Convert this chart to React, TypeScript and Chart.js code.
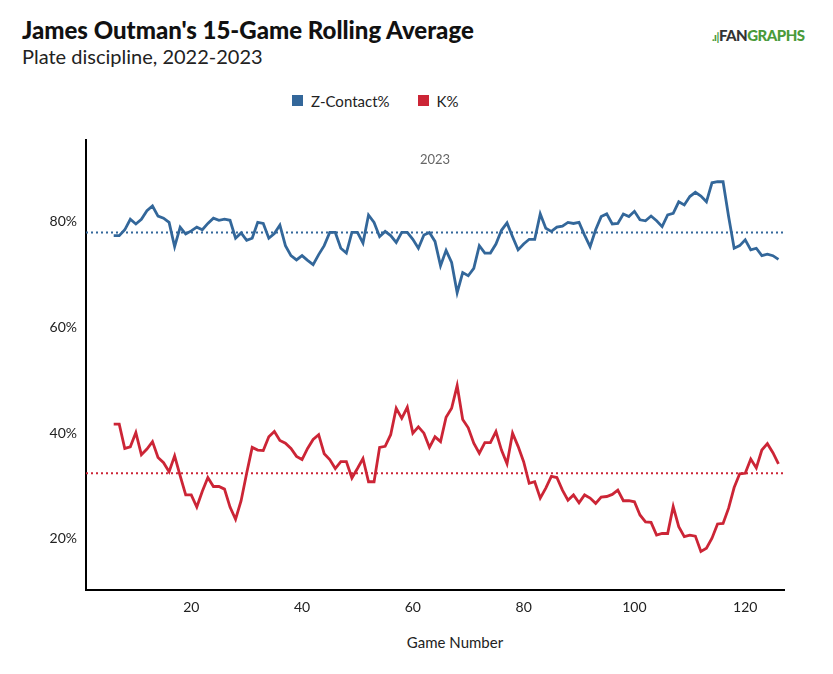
import React, { useEffect, useRef } from "react";
import { Chart, registerables } from "chart.js";
Chart.register(...registerables);

const games: number[] = [];
for (let g = 6; g <= 126; g++) games.push(g);

const zContact = [
  77.4,77.4,78.5,80.5,79.6,80.5,82.1,83.0,81.1,80.7,
  79.9,75.3,79.0,77.7,78.3,79.0,78.5,79.7,80.7,80.3,
  80.5,80.3,76.9,77.9,76.5,76.9,79.9,79.7,76.9,77.8,
  79.4,75.5,73.6,72.8,73.6,72.7,71.9,73.8,75.5,78.0,
  78.0,75.0,74.1,78.0,78.0,76.0,81.3,79.9,77.2,78.2,
  77.4,76.1,78.0,78.0,76.7,75.0,77.5,78.0,76.3,71.7,
  74.6,72.3,66.6,70.4,69.8,71.2,75.5,74.1,74.1,75.8,
  78.4,79.8,77.2,74.7,75.8,76.7,76.7,81.5,78.8,78.2,
  79.0,79.2,79.9,79.7,79.9,77.5,75.3,78.5,81.0,81.5,
  79.6,79.7,81.5,81.0,82.0,80.4,80.2,81.1,80.2,79.1,
  81.3,81.6,83.8,83.2,84.8,85.6,84.9,83.8,87.4,87.6,
  87.6,81.0,75.0,75.5,76.6,74.7,75.0,73.6,73.9,73.6,72.9,
];
const kPct = [
  41.7,41.7,37.1,37.4,40.1,35.9,37.0,38.4,35.4,34.4,
  32.7,35.7,31.9,28.3,28.3,26.0,29.0,31.6,29.9,29.9,
  29.4,26.0,23.7,27.2,32.4,37.3,36.8,36.7,39.3,40.3,
  38.6,38.1,37.1,35.6,35.0,37.1,38.8,39.7,36.1,35.0,
  33.3,34.6,34.6,31.5,33.3,35.2,30.8,30.8,37.3,37.5,
  39.7,44.7,42.8,44.9,40.0,41.2,40.0,37.3,39.3,38.4,
  43.0,44.7,49.0,42.6,41.0,38.1,36.2,38.2,38.2,40.3,
  36.8,34.2,40.0,37.5,34.6,30.5,30.8,27.7,29.6,31.8,
  31.6,29.2,27.3,28.3,26.8,28.3,27.7,26.7,27.9,28.0,
  28.4,29.2,27.2,27.2,27.0,24.5,23.2,23.1,20.7,21.0,
  21.0,26.1,22.3,20.4,20.7,20.5,17.6,18.2,20.1,22.8,
  22.9,25.8,29.7,32.3,32.4,35.1,33.4,36.8,38.0,36.3,34.2,
];
const zAvg = 78.0;
const kAvg = 32.4;
const yTicks = [20, 40, 60, 80];
const xTicks = [20, 40, 60, 80, 100, 120];
const seasonLabel = "2023";

const BLUE = "#33679a";
const RED = "#cc2536";
const FONT = "Lato, 'Open Sans', sans-serif";

export default function App() {
  const ref = useRef<HTMLCanvasElement>(null);
  useEffect(() => {
    const seasonPlugin = {
      id: "season",
      afterDraw(chart: any) {
        const { ctx, chartArea } = chart;
        ctx.save();
        ctx.fillStyle = "#666";
        ctx.font = `13px ${FONT}`;
        ctx.textAlign = "center";
        ctx.textBaseline = "middle";
        ctx.fillText(seasonLabel, (chartArea.left + chartArea.right) / 2, chartArea.top + 20);
        ctx.restore();
      },
    };
    const toXY = (arr: number[]) => arr.map((v, i) => ({ x: games[i], y: v }));
    const chart = new Chart(ref.current!, {
      type: "line",
      data: {
        datasets: [
          { label: "Z-Contact%", data: toXY(zContact), borderColor: BLUE, borderWidth: 2.8, pointRadius: 0, tension: 0 },
          { label: "K%", data: toXY(kPct), borderColor: RED, borderWidth: 2.8, pointRadius: 0, tension: 0 },
          { label: "zavg", data: [{ x: 1, y: zAvg }, { x: 127, y: zAvg }], borderColor: BLUE, borderWidth: 2, borderDash: [2, 3], pointRadius: 0 },
          { label: "kavg", data: [{ x: 1, y: kAvg }, { x: 127, y: kAvg }], borderColor: RED, borderWidth: 2, borderDash: [2, 3], pointRadius: 0 },
        ],
      },
      options: {
        animation: false,
        responsive: false,
        layout: { padding: { top: 140, right: 49, left: 0, bottom: 0 } },
        plugins: { legend: { display: false }, tooltip: { enabled: false } },
        scales: {
          x: {
            type: "linear",
            min: 1,
            max: 127,
            grid: { display: false, tickLength: 6 },
            border: { display: true, color: "#000", width: 2 },
            ticks: { color: "#222", font: { family: FONT, size: 14 }, callback: (v: any) => String(v) },
            afterBuildTicks: (s: any) => { s.ticks = xTicks.map((v) => ({ value: v })); },
            afterFit: (s: any) => { s.height = 84; },
          },
          y: {
            min: 10.3,
            max: 95.5,
            grid: { display: false, tickLength: 6 },
            border: { display: true, color: "#000", width: 2 },
            ticks: { color: "#222", font: { family: FONT, size: 14 }, callback: (v: any) => v + "%" },
            afterBuildTicks: (s: any) => { s.ticks = yTicks.map((v) => ({ value: v })); },
            afterFit: (s: any) => { s.width = 86; },
          },
        },
      },
      plugins: [seasonPlugin],
    } as any);
    return () => chart.destroy();
  }, []);

  const legendItem = (color: string, text: string, ml: number) => (
    <span style={{ display: "inline-flex", alignItems: "center", marginLeft: ml }}>
      <span style={{ width: 11, height: 11, background: color, display: "inline-block", marginRight: 8 }} />
      <span>{text}</span>
    </span>
  );

  return (
    <div style={{ position: "absolute", left: 0, top: 0, width: 833, height: 674, fontFamily: FONT, background: "#fff" }}>
      <div style={{ position: "absolute", left: 22, top: 15, fontSize: 24, fontWeight: 900, color: "#111" }}>James Outman's 15-Game Rolling Average</div>
      <div style={{ position: "absolute", left: 22, top: 44, fontSize: 20, color: "#222" }}>Plate discipline, 2022-2023</div>
      <div style={{ position: "absolute", left: 712, top: 26, fontSize: 15, fontWeight: 900, letterSpacing: -0.5 }}>
        <span style={{ color: "#4a9a3a", fontSize: 11 }}>.ı|</span>
        <span style={{ color: "#333" }}>FAN</span>
        <span style={{ color: "#4a9a3a" }}>GRAPHS</span>
      </div>
      <div style={{ position: "absolute", left: 292, top: 91, fontSize: 15, color: "#222", whiteSpace: "nowrap" }}>
        {legendItem(BLUE, "Z-Contact%", 0)}
        {legendItem(RED, "K%", 28)}
      </div>
      <div style={{ position: "absolute", left: 86, width: 738, top: 633, textAlign: "center", fontSize: 15, color: "#222" }}>Game Number</div>
      <canvas ref={ref} width={833} height={674} style={{ position: "absolute", left: 0, top: 0 }} />
    </div>
  );
}
